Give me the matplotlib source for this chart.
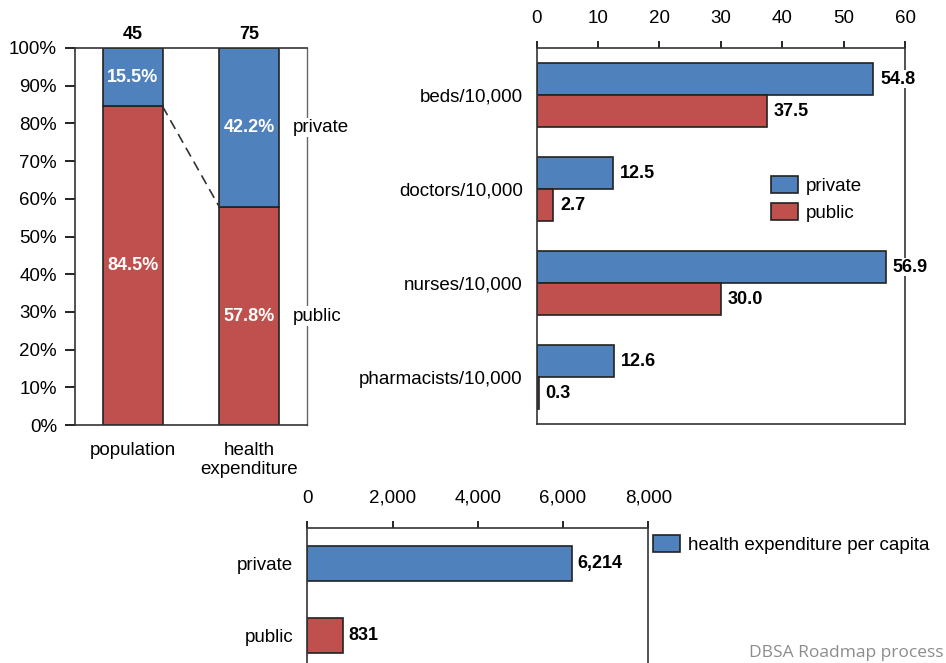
import numpy as np
import matplotlib.pyplot as plt
from matplotlib.patches import Patch
from matplotlib.ticker import FuncFormatter

plt.rcParams['font.family'] = ['Liberation Sans', 'DejaVu Sans']
plt.rcParams['font.size'] = 13.5

# Share of population vs health expenditure
share_groups = ['population', 'health\nexpenditure']
share_totals = [45, 75]
share_public = [84.5, 57.8]
share_private = [15.5, 42.2]

# Health resources per 10,000 people
resources = ['beds/10,000', 'doctors/10,000', 'nurses/10,000', 'pharmacists/10,000']
res_private = [54.8, 12.5, 56.9, 12.6]
res_public = [37.5, 2.7, 30.0, 0.3]

# Health expenditure per capita
spend_groups = ['private', 'public']
spend_per_capita = [6214, 831]

BLUE = '#4f81bd'
RED = '#c0504d'
EDGE = '#222222'
W, H = 946, 663


def px_axes(fig, x0, y0, x1, y1):
    # axes placed by pixel box (top-left origin)
    return fig.add_axes([x0 / W, (H - y1) / H, (x1 - x0) / W, (y1 - y0) / H])


def style_spines(ax, color='#333333', lw=1.2):
    for s in ax.spines.values():
        s.set_color(color)
        s.set_linewidth(lw)


fig = plt.figure(figsize=(W / 100, H / 100), dpi=100)

# ---- stacked percentage bars ----
ax1 = px_axes(fig, 75, 48, 307, 425)
x = np.arange(len(share_groups))
bw = 0.51
ax1.bar(x, share_public, bw, color=RED, edgecolor=EDGE, linewidth=1.2, zorder=2)
ax1.bar(x, share_private, bw, bottom=share_public, color=BLUE, edgecolor=EDGE,
        linewidth=1.2, zorder=2)
for i in range(len(x)):
    ax1.text(x[i], share_public[i] / 2, f'{share_public[i]:.1f}%', ha='center',
             va='center', color='white', fontweight='bold', fontsize=13)
    ax1.text(x[i], share_public[i] + share_private[i] / 2, f'{share_private[i]:.1f}%',
             ha='center', va='center', color='white', fontweight='bold', fontsize=13)
    ax1.text(x[i], 103.5, str(share_totals[i]), ha='center', va='center',
             fontweight='bold', fontsize=13, clip_on=False)
ax1.plot([x[0] + bw / 2, x[1] - bw / 2], [share_public[0], share_public[1]],
         ls=(0, (6, 3.5)), color='#333333', lw=1.2, zorder=3)
mid_priv = share_public[1] + share_private[1] / 2
ax1.text(1.375, mid_priv, 'private', ha='left', va='center', zorder=5,
         bbox=dict(facecolor='white', edgecolor='none', pad=1))
ax1.text(1.375, share_public[1] / 2, 'public', ha='left', va='center', zorder=5,
         bbox=dict(facecolor='white', edgecolor='none', pad=1))
ax1.set_xlim(-0.5, 1.5)
ax1.set_ylim(0, 100)
ax1.set_yticks(np.arange(0, 101, 10))
ax1.yaxis.set_major_formatter(FuncFormatter(lambda v, p: f'{v:.0f}%'))
ax1.set_xticks(x)
ax1.set_xticklabels(share_groups, ha='center', multialignment='center')
ax1.tick_params(axis='x', length=0, pad=12)
ax1.tick_params(axis='y', length=7, width=1.2, pad=6)
style_spines(ax1)
ax1.spines['right'].set_color('#666666')
ax1.spines['right'].set_linewidth(1)

# ---- resources per 10,000 ----
ax2 = px_axes(fig, 536.7, 48, 905, 424.3)
y = np.arange(len(resources))
bh = 0.34
ax2.barh(y - bh / 2, res_private, bh, color=BLUE, edgecolor=EDGE, linewidth=1.2,
         label='private', zorder=2)
ax2.barh(y + bh / 2, res_public, bh, color=RED, edgecolor=EDGE, linewidth=1.2,
         label='public', zorder=2)
for i in range(len(y)):
    ax2.annotate(f'{res_private[i]:.1f}', (res_private[i], y[i] - bh / 2),
                 xytext=(5, 0), textcoords='offset points', va='center',
                 fontweight='bold', fontsize=13, zorder=5, annotation_clip=False,
                 bbox=dict(facecolor='white', edgecolor='none', pad=0.5))
    ax2.annotate(f'{res_public[i]:.1f}', (res_public[i], y[i] + bh / 2),
                 xytext=(5, 0), textcoords='offset points', va='center',
                 fontweight='bold', fontsize=13, zorder=5, annotation_clip=False,
                 bbox=dict(facecolor='white', edgecolor='none', pad=0.5))
ax2.set_xlim(0, 60)
ax2.set_ylim(3.5, -0.5)
ax2.set_yticks(y)
ax2.set_yticklabels(resources)
ax2.xaxis.tick_top()
ax2.set_xticks(np.arange(0, 61, 10))
ax2.tick_params(axis='x', length=5, width=1.2, pad=10)
ax2.tick_params(axis='y', length=0, pad=10)
style_spines(ax2)
ax2.legend(loc='upper left', bbox_to_anchor=(771 / W, 1 - 176 / H),
           bbox_transform=fig.transFigure, frameon=False, borderpad=0,
           borderaxespad=0, handlelength=1.45, handleheight=1.0,
           handletextpad=0.4, labelspacing=0.45)

# ---- health expenditure per capita ----
ax3 = px_axes(fig, 307.3, 527.7, 648.3, 671.3)
ys = np.arange(len(spend_groups))
ax3.barh(ys, spend_per_capita, 0.49, color=[BLUE, RED], edgecolor=EDGE,
         linewidth=1.2, zorder=2)
for i in range(len(ys)):
    ax3.annotate(f'{spend_per_capita[i]:,}', (spend_per_capita[i], ys[i]),
                 xytext=(4, 0), textcoords='offset points', va='center',
                 fontweight='bold', fontsize=13)
ax3.set_xlim(0, 8000)
ax3.set_ylim(1.5, -0.5)
ax3.set_yticks(ys)
ax3.set_yticklabels(spend_groups)
ax3.xaxis.tick_top()
ax3.set_xticks(np.arange(0, 8001, 2000))
ax3.xaxis.set_major_formatter(FuncFormatter(lambda v, p: f'{v:,.0f}'))
ax3.tick_params(axis='x', length=5, width=1.2, pad=10)
ax3.tick_params(axis='y', length=0, pad=10)
style_spines(ax3)
ax3.legend(handles=[Patch(facecolor=BLUE, edgecolor=EDGE, linewidth=1.2,
                          label='health expenditure per capita')],
           loc='upper left', bbox_to_anchor=(653 / W, 1 - 535 / H),
           bbox_transform=fig.transFigure, frameon=False, borderpad=0,
           borderaxespad=0, handlelength=1.45, handleheight=1.0,
           handletextpad=0.4)

fig.text(943 / W, 1 - 653 / H, 'DBSA Roadmap process', ha='right', va='center',
         color='#8c8c8c', fontsize=12.5, family=['Open Sans', 'DejaVu Sans'])

fig.savefig('out.png', dpi=100)
